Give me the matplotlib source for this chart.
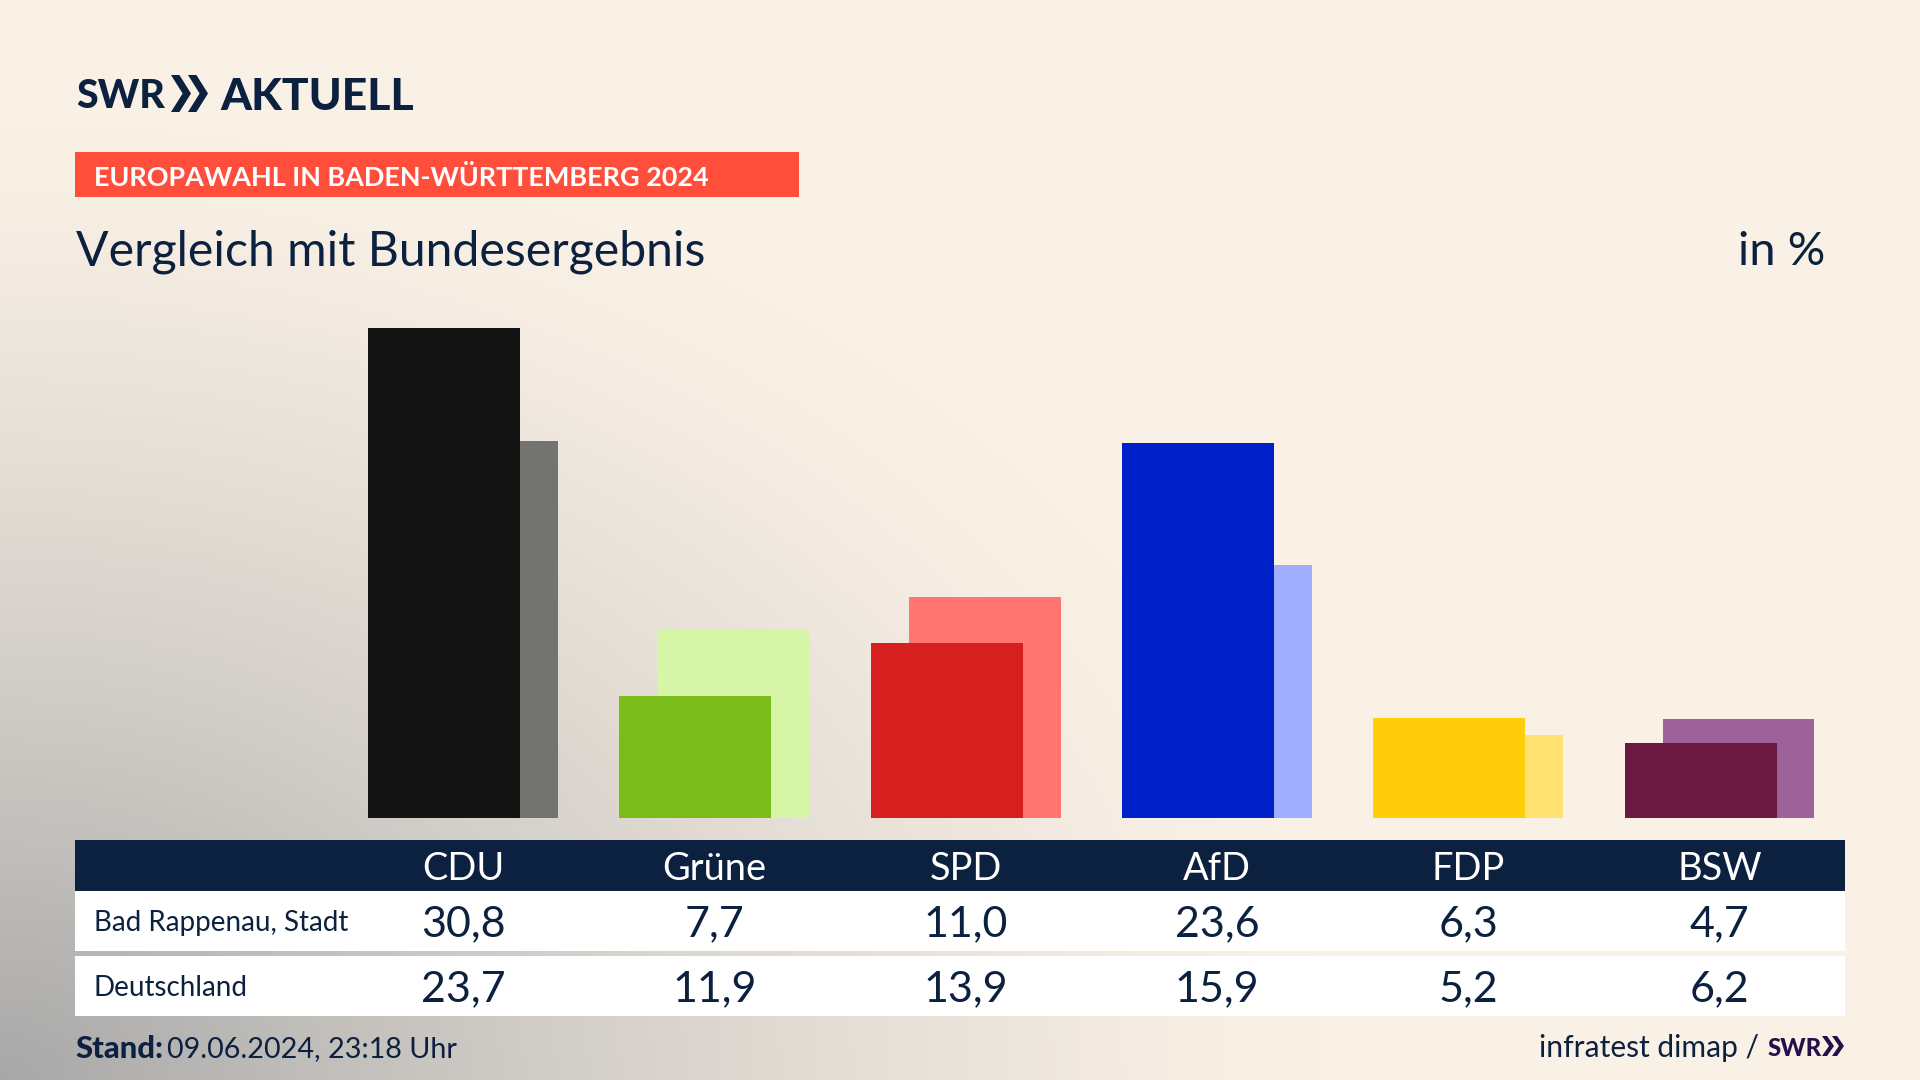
import numpy as np
import matplotlib
matplotlib.use("Agg")
import matplotlib.pyplot as plt
from matplotlib.patches import Rectangle, Polygon

plt.rcParams['font.family'] = ['Lato', 'DejaVu Sans']

parties = ["CDU", "Grüne", "SPD", "AfD", "FDP", "BSW"]
region_name = "Bad Rappenau, Stadt"
national_name = "Deutschland"
region_values = [30.8, 7.7, 11.0, 23.6, 6.3, 4.7]
national_values = [23.7, 11.9, 13.9, 15.9, 5.2, 6.2]
front_colors = ["#141414", "#7ABD1B", "#D81F1F", "#0021C8", "#FFCD0B", "#6A1A40"]
back_colors = ["#73736F", "#D7F5A6", "#FF7570", "#9FAEFF", "#FFE171", "#9C6299"]

NAVY = "#0C203F"
W, H = 1920, 1080
fig = plt.figure(figsize=(W / 100, H / 100), dpi=100)

# page background: cream with a grey glow from the bottom-left corner
bg = fig.add_axes([0, 0, 1, 1], zorder=0)
yy, xx = np.mgrid[0:H, 0:W]
t = (np.clip(1 - np.hypot(xx / 1.2, (H - yy) * 1.15) / 1100, 0, 1) ** 1.3)[..., None]
cream = np.array([250, 241, 230]) / 255
grey = np.array([168, 168, 168]) / 255
bg.imshow(cream * (1 - t) + grey * t, extent=(0, W, H, 0), aspect="auto", interpolation="bilinear")
bg.set_xlim(0, W)
bg.set_ylim(H, 0)
bg.axis("off")


def px(s):
    return s * 0.72


def label(x, y, s, size, color=NAVY, ha="left", weight="normal", fit=None):
    t = bg.text(x, y, s, fontsize=px(size), color=color, ha=ha, va="center_baseline", fontweight=weight)
    if fit:
        r = fig.canvas.get_renderer()
        t.set_fontsize(t.get_fontsize() * fit / t.get_window_extent(r).width)
    return t


def chevrons(x, top, h, w, gap, color):
    for k in range(2):
        x0 = x + k * gap
        bg.add_patch(Polygon([(x0, top), (x0 + w * 0.42, top), (x0 + w, top + h / 2),
                              (x0 + w * 0.42, top + h), (x0, top + h), (x0 + w * 0.58, top + h / 2)],
                             closed=True, fc=color, ec="none"))


# logo
label(76, 93, "SWR", 49, weight="black", fit=89)
chevrons(171, 75, 37, 20, 17, NAVY)
label(220, 93, "AKTUELL", 49, weight="black", fit=194)

# tag and headings
bg.add_patch(Rectangle((75, 152), 724, 45, fc="#FF4F3C", ec="none"))
label(94, 175, "EUROPAWAHL IN BADEN-WÜRTTEMBERG 2024", 29, color="white", weight="bold", fit=617)
label(76, 247, "Vergleich mit Bundesergebnis", 46, fit=629)
label(1825, 248, "in %", 46, ha="right", fit=87)

# bars
LEFT, RIGHT, TOP, BASE = 368, 1814, 328, 818
ax = fig.add_axes([LEFT / W, 1 - BASE / H, (RIGHT - LEFT) / W, (BASE - TOP) / H], zorder=1)
ax.patch.set_alpha(0)
STEP = 251.3
bar_w = 152 / STEP
offset = 38 / STEP
x = np.arange(len(parties))
ax.bar(x + offset, national_values, width=bar_w, align="edge", color=back_colors, zorder=1)
ax.bar(x, region_values, width=bar_w, align="edge", color=front_colors, zorder=2)
ax.set_xlim(0, (RIGHT - LEFT) / STEP)
ax.set_ylim(0, 30.8)
ax.axis("off")

# table
TX0, TX1 = 75, 1845
bg.add_patch(Rectangle((TX0, 840), TX1 - TX0, 51, fc=NAVY, ec="none"))
bg.add_patch(Rectangle((TX0, 891), TX1 - TX0, 60, fc="white", ec="none"))
bg.add_patch(Rectangle((TX0, 956), TX1 - TX0, 60, fc="white", ec="none"))
label(94, 921, region_name, 27, fit=254)
label(94, 986, national_name, 27, fit=153)


def fmt(v):
    return f"{v:.1f}".replace(".", ",")


for i, p in enumerate(parties):
    cx = LEFT + (i + (bar_w + offset) / 2) * STEP
    label(cx, 866, p, 38, color="white", ha="center")
    label(cx, 921, fmt(region_values[i]), 43, ha="center")
    label(cx, 986, fmt(national_values[i]), 43, ha="center")

# footer
label(75, 1047, "Stand:", 30, weight="black", fit=88)
label(167, 1047, "09.06.2024, 23:18 Uhr", 30, fit=290)
label(1539, 1046, "infratest dimap /", 30, fit=220)
label(1768, 1046, "SWR", 27, color="#24104A", weight="black", fit=54)
chevrons(1822, 1036, 20, 12, 10, "#24104A")

fig.savefig("out.png", dpi=100)
